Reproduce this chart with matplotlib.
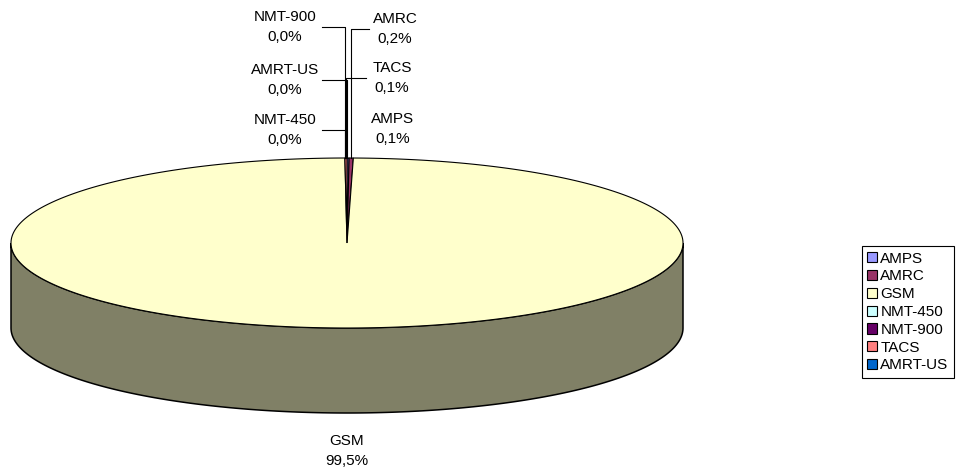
import numpy as np
import matplotlib
matplotlib.use('Agg')
import matplotlib.pyplot as plt
from matplotlib.patches import Polygon, Patch

plt.rcParams['font.family'] = ['Liberation Sans', 'DejaVu Sans']
plt.rcParams['font.size'] = 11

systems = ['AMPS', 'AMRC', 'GSM', 'NMT-450', 'NMT-900', 'TACS', 'AMRT-US']
shares = [0.1, 0.2, 99.5, 0.0, 0.0, 0.1, 0.0]
colors = ['#9999FF', '#993366', '#FFFFCC', '#CCFFFF', '#660066', '#FF8080', '#0066CC']

# pie geometry in pixel units (y grows downwards)
cx, cy = 347, 243
rx, ry = 336, 85
depth = 85

# label centres for the thin slices, GSM sits under the pie
label_pos = {
    'AMPS': (393, 129), 'AMRC': (395, 29), 'TACS': (392, 78),
    'NMT-450': (285, 130), 'NMT-900': (285, 27), 'AMRT-US': (285, 80),
    'GSM': (347, 451),
}
no_leader = {'AMPS', 'GSM'}


def rim(theta, dy=0.0):
    # theta in degrees, clockwise from 12 o'clock
    t = np.radians(theta)
    return cx + rx * np.sin(t), cy - ry * np.cos(t) + dy


def shade(c, f=0.5):
    r, g, b = matplotlib.colors.to_rgb(c)
    return (r * f, g * f, b * f)


fig = plt.figure(figsize=(9.63, 4.71), dpi=100)
ax = fig.add_axes([0, 0, 1, 1])
ax.set_xlim(0, 963)
ax.set_ylim(471, 0)
ax.axis('off')

total = sum(shares)
bounds = np.concatenate([[0], np.cumsum(shares) / total * 360])

# front wall: only the part between 90 and 270 degrees faces the viewer
for i, c in enumerate(colors):
    a0, a1 = max(bounds[i], 90), min(bounds[i + 1], 270)
    if a1 <= a0:
        continue
    th = np.linspace(a0, a1, 200)
    top = [rim(t) for t in th]
    bot = [rim(t, depth) for t in th[::-1]]
    ax.add_patch(Polygon(top + bot, closed=True, facecolor=shade(c),
                         edgecolor='black', linewidth=1.1, zorder=1))

# top face
for i, c in enumerate(colors):
    a0, a1 = bounds[i], bounds[i + 1]
    if a1 - a0 <= 0:
        continue
    th = np.linspace(a0, a1, max(4, int((a1 - a0) * 2)))
    pts = [(cx, cy)] + [rim(t) for t in th]
    ax.add_patch(Polygon(pts, closed=True, facecolor=c, edgecolor='black',
                         linewidth=0.8, zorder=2))

# labels and leader lines
for i, name in enumerate(systems):
    lx, ly = label_pos[name]
    txt = name + '\n' + ('%.1f' % shares[i]).replace('.', ',') + '%'
    ax.text(lx, ly, txt, ha='center', va='center', linespacing=1.5,
            zorder=4)
    if name in no_leader:
        continue
    mid = (bounds[i] + bounds[i + 1]) / 2
    ax_, ay_ = rim(mid)
    edge = lx + 37 if lx < cx else lx - 26
    ax.plot([edge, ax_, ax_], [ly, ly, ay_], color='black', linewidth=0.8,
            zorder=3)

handles = [Patch(facecolor=c, edgecolor='black', linewidth=0.8) for c in colors]
leg = fig.legend(handles, systems, loc='center left',
                 bbox_to_anchor=(862 / 963, 1 - 312 / 471),
                 frameon=True, fancybox=False, edgecolor='black',
                 framealpha=1, borderaxespad=0, handlelength=0.65,
                 handleheight=0.65, handletextpad=0.2, borderpad=0.35,
                 labelspacing=0.25)
leg.get_frame().set_linewidth(0.8)

fig.savefig('out.png', dpi=100)
